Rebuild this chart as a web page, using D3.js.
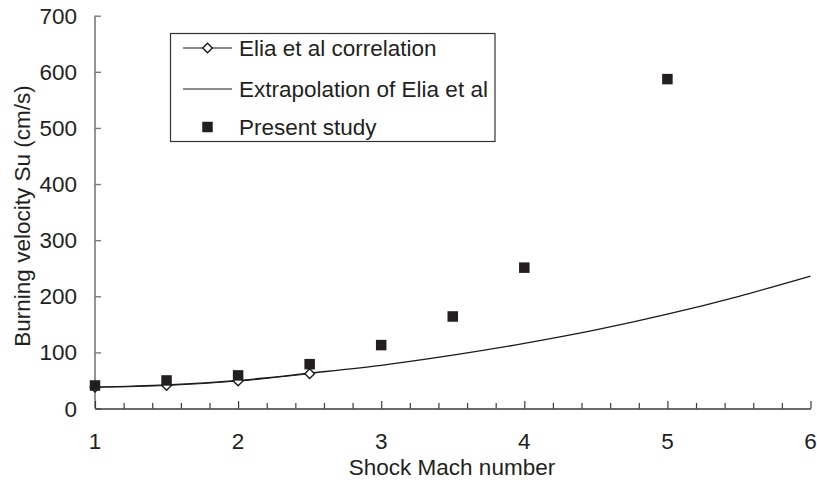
<!DOCTYPE html>
<html>
<head>
<meta charset="utf-8">
<script src="https://cdn.jsdelivr.net/npm/d3@7"></script>
<style>
  html, body { margin: 0; padding: 0; background: #fff; }
  svg { display: block; font-family: "Liberation Sans", Arial, sans-serif; }
</style>
</head>
<body>
<svg id="chart" width="817" height="491"></svg>
<script>
// Elia et al correlation (open diamonds joined by a line)
const eliaMach = [1, 1.5, 2, 2.5];
const eliaSu = [38, 41, 49, 62];

// Extrapolation of the Elia et al correlation to higher Mach numbers
const extrapMach = [1, 1.5, 2, 2.5, 3, 3.5, 4, 4.5, 5, 5.5, 6];
const extrapSu = [38, 42, 50, 63, 77, 95, 116, 140, 168, 200, 236];

// Present study (filled squares)
const studyMach = [1, 1.5, 2, 2.5, 3, 3.5, 4, 5];
const studySu = [41, 50, 59, 79, 113, 164, 251, 587];

const xTicks = [1, 2, 3, 4, 5, 6];
const yTicks = [0, 100, 200, 300, 400, 500, 600, 700];
const legendLabels = ["Elia et al correlation", "Extrapolation of Elia et al", "Present study"];

const svg = d3.select("#chart");
const x = d3.scaleLinear().domain([1, 6]).range([95, 810.5]);
const y = d3.scaleLinear().domain([0, 700]).range([408.5, 15.7]);

const textColor = "#231f20";
const fontSize = 22.5;

// Y axis: ticks point inward (to the right)
const yAxis = svg.append("g").attr("transform", `translate(${x(1)},0)`)
  .call(d3.axisRight(y).tickValues(yTicks).tickSize(6).tickFormat(""));
yAxis.select(".domain").attr("d", `M0,${y(700)}V${y(0)}`).attr("stroke", "#7a7a7a").attr("stroke-width", 1.6);
yAxis.selectAll(".tick line").attr("stroke", "#7a7a7a").attr("stroke-width", 1.4);

svg.append("g").selectAll("text").data(yTicks).join("text")
  .attr("x", 77).attr("y", d => y(d)).attr("dy", "0.36em")
  .attr("text-anchor", "end").attr("font-size", fontSize).attr("fill", textColor)
  .text(d => d);

// X axis: minor ticks every 0.2, ticks point upward
const minorTicks = d3.range(1, 6.0001, 0.2).map(v => +v.toFixed(1));
const xAxis = svg.append("g").attr("transform", `translate(0,${y(0)})`)
  .call(d3.axisTop(x).tickValues(minorTicks).tickSizeInner(5).tickSizeOuter(0).tickFormat(""));
xAxis.select(".domain").attr("stroke", "#3a3a3a").attr("stroke-width", 1.4);
xAxis.selectAll(".tick line")
  .attr("stroke", "#3a3a3a").attr("stroke-width", 1.2)
  .attr("y2", d => Number.isInteger(d) ? -7.5 : -5.5);

svg.append("g").selectAll("text").data(xTicks).join("text")
  .attr("x", d => x(d)).attr("y", 449)
  .attr("text-anchor", "middle").attr("font-size", fontSize).attr("fill", textColor)
  .text(d => d);

// Axis titles
svg.append("text").attr("x", 452).attr("y", 475)
  .attr("text-anchor", "middle").attr("font-size", fontSize).attr("fill", textColor)
  .text("Shock Mach number");
svg.append("text").attr("transform", "translate(30,216) rotate(-90)")
  .attr("text-anchor", "middle").attr("font-size", fontSize).attr("fill", textColor)
  .text("Burning velocity Su (cm/s)");

// Extrapolation curve
const extrapData = extrapMach.map((m, i) => [m, extrapSu[i]]);
svg.append("path").datum(extrapData)
  .attr("fill", "none").attr("stroke", "#1a1a1a").attr("stroke-width", 1.3)
  .attr("d", d3.line().x(d => x(d[0])).y(d => y(d[1])).curve(d3.curveCatmullRom));

// Elia et al correlation line and diamonds
const eliaData = eliaMach.map((m, i) => [m, eliaSu[i]]);
svg.append("path").datum(eliaData)
  .attr("fill", "none").attr("stroke", "#1a1a1a").attr("stroke-width", 1.1)
  .attr("d", d3.line().x(d => x(d[0])).y(d => y(d[1])).curve(d3.curveCatmullRom));

const diamond = d3.symbol().type(d3.symbolDiamond2).size(60);
svg.append("g").selectAll("path").data(eliaData).join("path")
  .attr("transform", d => `translate(${x(d[0])},${y(d[1])})`)
  .attr("d", diamond).attr("fill", "#fff").attr("stroke", "#1a1a1a").attr("stroke-width", 1.4);

// Present study squares
const studyData = studyMach.map((m, i) => [m, studySu[i]]);
const sq = 10.5;
svg.append("g").selectAll("rect").data(studyData).join("rect")
  .attr("x", d => x(d[0]) - sq / 2).attr("y", d => y(d[1]) - sq / 2)
  .attr("width", sq).attr("height", sq).attr("fill", "#231f20");

// Legend
const legend = svg.append("g");
legend.append("rect").attr("x", 170.5).attr("y", 33.5).attr("width", 324.5).attr("height", 108)
  .attr("fill", "#fff").attr("stroke", "#333").attr("stroke-width", 1.2);
const rowY = [48, 89, 127];
legendLabels.forEach((label, i) => {
  const cy = rowY[i];
  if (i < 2) {
    legend.append("line").attr("x1", 183).attr("x2", 232).attr("y1", cy).attr("y2", cy)
      .attr("stroke", "#1a1a1a").attr("stroke-width", 1.2);
  }
  if (i === 0) {
    legend.append("path").attr("transform", `translate(207.5,${cy})`)
      .attr("d", diamond).attr("fill", "#fff").attr("stroke", "#1a1a1a").attr("stroke-width", 1.4);
  }
  if (i === 2) {
    legend.append("rect").attr("x", 207.5 - sq / 2).attr("y", cy - sq / 2)
      .attr("width", sq).attr("height", sq).attr("fill", "#231f20");
  }
  legend.append("text").attr("x", 239).attr("y", cy).attr("dy", "0.36em")
    .attr("font-size", fontSize).attr("fill", textColor).text(label);
});
</script>
</body>
</html>
